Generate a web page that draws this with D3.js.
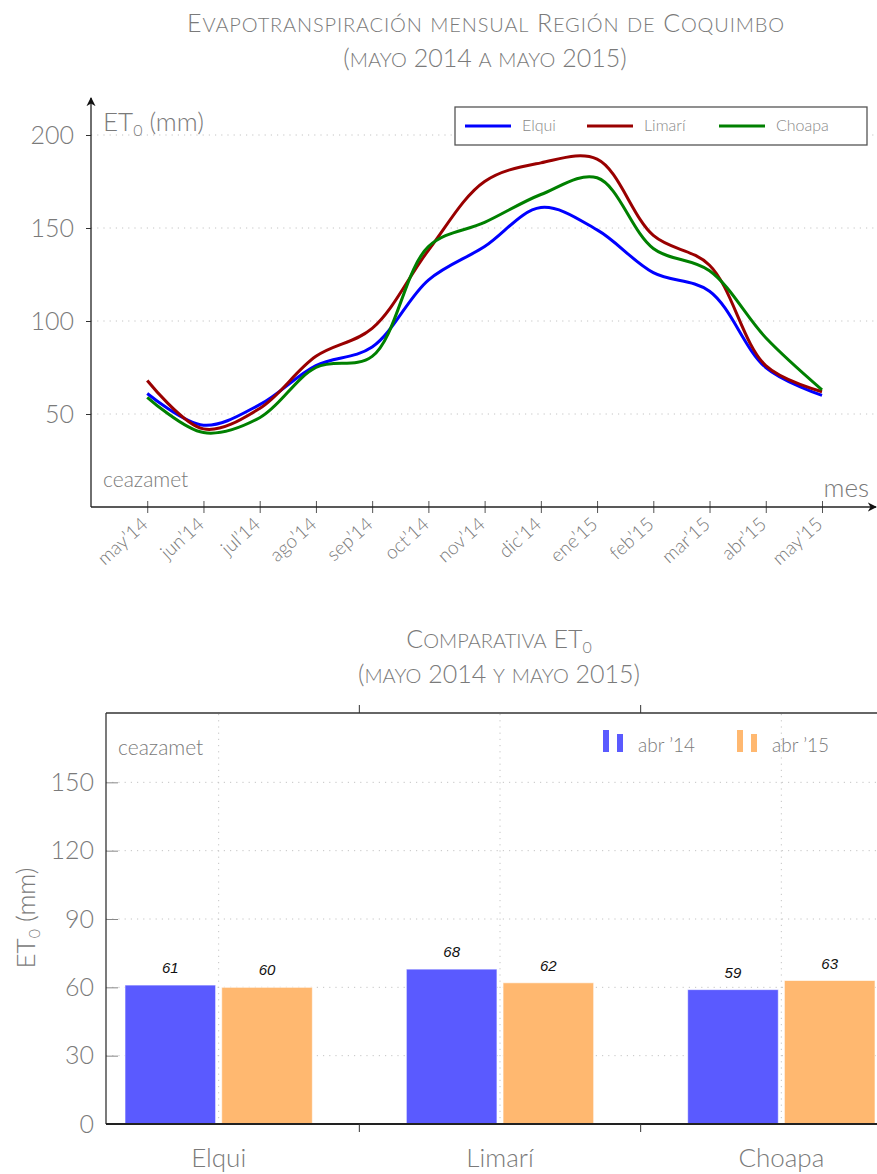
<!DOCTYPE html>
<html>
<head>
<meta charset="utf-8">
<script src="https://cdn.jsdelivr.net/npm/d3@7"></script>
<style>
  body { margin: 0; background: #fff; }
  svg { display: block; font-family: Lato, "Open Sans", sans-serif; font-weight: 300; }
</style>
</head>
<body>
<svg id="chart" width="877" height="1174"></svg>
<script>
// Monthly ET0 values (mm)
let months = ["may’14", "jun’14", "jul’14", "ago’14", "sep’14", "oct’14", "nov’14",
              "dic’14", "ene’15", "feb’15", "mar’15", "abr’15", "may’15"];
let elqui  = [61, 44, 55, 76, 86, 122, 140, 161, 149, 126, 116, 75, 60];
let limari = [68, 42, 53, 81, 96, 138, 175, 185, 187, 146, 130, 76, 62];
let choapa = [59, 40, 48, 75, 81, 140, 153, 168, 177, 139, 127, 91, 63];
let lineNames  = ["Elqui", "Limarí", "Choapa"];
let lineColors = ["#0000ff", "#990000", "#008000"];
let lineTicks  = [50, 100, 150, 200];

// Bar chart values
let regions    = ["Elqui", "Limarí", "Choapa"];
let barSeries  = ["abr ’14", "abr ’15"];
let et14       = [61, 68, 59];
let et15       = [60, 62, 63];
let barColors  = ["#5a5aff", "#ffb870"];
let barTicks   = [0, 30, 60, 90, 120, 150];

let grey = "#7a7a7a";
let svg = d3.select("#chart");

// Small caps by hand: lowercase runs get upper-cased at a smaller size
function smallCaps(sel, str, big, small) {
  let runs = str.match(/[a-záéíóúñ]+|[^a-záéíóúñ]+/g);
  runs.forEach(function(r) {
    let lower = /[a-záéíóúñ]/.test(r);
    sel.append("tspan")
      .style("font-size", (lower ? small : big) + "px")
      .text(r.toUpperCase());
  });
}

// Arrow head marker for the line chart axes
svg.append("defs").append("marker")
  .attr("id", "arrow")
  .attr("viewBox", "0 0 10 10")
  .attr("refX", 9).attr("refY", 5)
  .attr("markerWidth", 7).attr("markerHeight", 7)
  .attr("orient", "auto")
  .append("path")
    .attr("d", "M0,0 L10,5 L0,10 L3,5 Z")
    .attr("fill", "#111");

// ---------- Line chart ----------
let xScale = d3.scaleLinear().domain([-1, 12]).range([91, 822]);
let yScale = d3.scaleLinear().domain([0, 200]).range([507, 135]);

let lineG = svg.append("g");

// Title
let t1 = lineG.append("text").attr("text-anchor", "middle").attr("fill", grey);
smallCaps(t1.append("tspan").attr("x", 486).attr("y", 32).style("letter-spacing", "0.85px"),
  "Evapotranspiración mensual Región de Coquimbo", 25, 20);
smallCaps(t1.append("tspan").attr("x", 485).attr("y", 67),
  "(mayo 2014 a mayo 2015)", 25, 20);

// Dotted grid lines
lineG.append("g").selectAll("line")
  .data(lineTicks)
  .join("line")
    .attr("x1", 91).attr("x2", 877)
    .attr("y1", d => yScale(d)).attr("y2", d => yScale(d))
    .attr("stroke", "#c4c4c4")
    .attr("stroke-dasharray", "1.2,5");

// Y axis
let yAxis = lineG.append("g")
  .attr("transform", "translate(91,0)")
  .call(d3.axisLeft(yScale).tickValues(lineTicks).tickSize(5).tickPadding(12));
yAxis.select(".domain").remove();
yAxis.selectAll("line").attr("stroke", "#333");
yAxis.selectAll("text").attr("fill", grey)
  .style("font-family", "Lato, sans-serif").style("font-weight", 300).style("font-size", "25px");

lineG.append("line")
  .attr("x1", 91).attr("x2", 91).attr("y1", 507).attr("y2", 98)
  .attr("stroke", "#222").attr("stroke-width", 1.3)
  .attr("marker-end", "url(#arrow)");

// X axis
let xAxis = lineG.append("g")
  .attr("transform", "translate(0,507)")
  .call(d3.axisBottom(xScale).tickValues(d3.range(months.length))
    .tickFormat(i => months[i]).tickSize(6));
xAxis.select(".domain").remove();
xAxis.selectAll(".tick line").attr("y1", -6).attr("stroke", "#555");
xAxis.selectAll(".tick text")
  .attr("fill", grey)
  .style("font-family", "Lato, sans-serif").style("font-weight", 300).style("font-size", "19px")
  .attr("text-anchor", "end")
  .attr("x", 0).attr("y", 0)
  .attr("dy", "0.35em")
  .attr("transform", "translate(-3,14) rotate(-42)");

lineG.append("line")
  .attr("x1", 91).attr("x2", 876).attr("y1", 507).attr("y2", 507)
  .attr("stroke", "#222").attr("stroke-width", 1.3)
  .attr("marker-end", "url(#arrow)");

// Axis labels and source
let yl = lineG.append("text").attr("x", 103).attr("y", 131)
  .attr("fill", grey).style("font-size", "26px");
yl.append("tspan").text("ET");
yl.append("tspan").attr("dy", 5).style("font-size", "16px").text("0");
yl.append("tspan").attr("dy", -5).text(" (mm)");

lineG.append("text").attr("x", 869).attr("y", 497).attr("text-anchor", "end")
  .attr("fill", grey).style("font-size", "26px").text("mes");

lineG.append("text").attr("x", 103).attr("y", 487)
  .attr("fill", grey).style("font-size", "21px").text("ceazamet");

// Lines
let lineGen = d3.line()
  .x((d, i) => xScale(i))
  .y(d => yScale(d))
  .curve(d3.curveCatmullRom.alpha(0.5));

lineG.append("g").selectAll("path")
  .data([elqui, limari, choapa])
  .join("path")
    .attr("d", lineGen)
    .attr("fill", "none")
    .attr("stroke", (d, i) => lineColors[i])
    .attr("stroke-width", 3);

// Legend
let lg = lineG.append("g");
lg.append("rect")
  .attr("x", 455).attr("y", 107).attr("width", 412).attr("height", 38)
  .attr("fill", "#fff").attr("stroke", "#555").attr("stroke-width", 1.3);
let legendX = [465, 587, 719];
lineNames.forEach(function(name, i) {
  lg.append("line")
    .attr("x1", legendX[i]).attr("x2", legendX[i] + 46)
    .attr("y1", 126).attr("y2", 126)
    .attr("stroke", lineColors[i]).attr("stroke-width", 3);
  lg.append("text")
    .attr("x", legendX[i] + 57).attr("y", 131)
    .attr("fill", "#888").style("font-size", "16px").text(name);
});

// ---------- Bar chart ----------
let x0 = d3.scaleBand().domain(regions).range([78, 922]);
let x1 = d3.scaleBand().domain(barSeries)
  .range([47, x0.bandwidth() - 47]).paddingInner(0.063);
let yBar = d3.scaleLinear().domain([0, 180]).range([1124, 714]);

let barG = svg.append("g");

// Title
let t2 = barG.append("text").attr("text-anchor", "middle").attr("fill", grey);
let t2a = t2.append("tspan").attr("x", 499).attr("y", 648);
smallCaps(t2a, "Comparativa ET", 25, 20);
t2a.append("tspan").attr("dy", 5).style("font-size", "16px").text("0");
smallCaps(t2.append("tspan").attr("x", 499).attr("y", 683),
  "(mayo 2014 y mayo 2015)", 25, 20);

// Grid lines
barG.append("g").selectAll("line")
  .data(barTicks.filter(d => d > 0))
  .join("line")
    .attr("x1", 106).attr("x2", 877)
    .attr("y1", d => yBar(d)).attr("y2", d => yBar(d))
    .attr("stroke", "#c4c4c4").attr("stroke-dasharray", "1.2,5");
barG.append("g").selectAll("line")
  .data(regions)
  .join("line")
    .attr("x1", d => x0(d) + x0.bandwidth() / 2).attr("x2", d => x0(d) + x0.bandwidth() / 2)
    .attr("y1", 714).attr("y2", 1124)
    .attr("stroke", "#c4c4c4").attr("stroke-dasharray", "1.2,5");

// Bars
let barData = regions.map((r, i) => ({region: r, values: [et14[i], et15[i]]}));
let groups = barG.append("g").selectAll("g")
  .data(barData)
  .join("g")
    .attr("transform", d => `translate(${x0(d.region)},0)`);

groups.selectAll("rect")
  .data(d => d.values.map((v, j) => ({series: barSeries[j], value: v, j: j})))
  .join("rect")
    .attr("x", d => x1(d.series))
    .attr("y", d => yBar(d.value))
    .attr("width", x1.bandwidth())
    .attr("height", d => yBar(0) - yBar(d.value))
    .attr("fill", d => barColors[d.j])
    .attr("stroke", "rgba(255,255,255,0.6)").attr("stroke-width", 1);

groups.selectAll("text")
  .data(d => d.values.map((v, j) => ({series: barSeries[j], value: v})))
  .join("text")
    .attr("x", d => x1(d.series) + x1.bandwidth() / 2)
    .attr("y", d => yBar(d.value) - 12)
    .attr("text-anchor", "middle")
    .style("font-family", "'Liberation Sans', Arial, sans-serif")
    .style("font-style", "italic").style("font-weight", 400)
    .style("font-size", "15px")
    .attr("fill", "#111")
    .text(d => d.value);

// Y axis with inward ticks
let yBarAxis = barG.append("g")
  .attr("transform", "translate(106,0)")
  .call(d3.axisLeft(yBar).tickValues(barTicks).tickSize(-12).tickPadding(12));
yBarAxis.select(".domain").remove();
yBarAxis.selectAll("line").attr("stroke", "#888");
yBarAxis.selectAll("text").attr("fill", grey)
  .style("font-family", "Lato, sans-serif").style("font-weight", 300).style("font-size", "25px");

// Frame: left, top and bottom lines
barG.append("line").attr("x1", 106).attr("x2", 106).attr("y1", 713).attr("y2", 1124)
  .attr("stroke", "#333").attr("stroke-width", 1.3);
barG.append("line").attr("x1", 106).attr("x2", 922).attr("y1", 713).attr("y2", 713)
  .attr("stroke", "#333").attr("stroke-width", 1.3);
barG.append("line").attr("x1", 106).attr("x2", 922).attr("y1", 1124).attr("y2", 1124)
  .attr("stroke", "#222").attr("stroke-width", 2);

// Ticks between the regions, on top and bottom
let bounds = regions.slice(1).map(r => x0(r));
barG.append("g").selectAll("line")
  .data(bounds)
  .join("line")
    .attr("x1", d => d).attr("x2", d => d).attr("y1", 705).attr("y2", 713)
    .attr("stroke", "#333");
barG.append("g").selectAll("line")
  .data(bounds)
  .join("line")
    .attr("x1", d => d).attr("x2", d => d).attr("y1", 1124).attr("y2", 1132)
    .attr("stroke", "#333");

// Region labels
barG.append("g").selectAll("text")
  .data(regions)
  .join("text")
    .attr("x", d => x0(d) + x0.bandwidth() / 2)
    .attr("y", 1167)
    .attr("text-anchor", "middle")
    .attr("fill", grey).style("font-size", "26px")
    .text(d => d);

// Y axis title
let yt = barG.append("text")
  .attr("transform", "translate(35,918) rotate(-90)")
  .attr("text-anchor", "middle")
  .attr("fill", grey).style("font-size", "26px");
yt.append("tspan").text("ET");
yt.append("tspan").attr("dy", 5).style("font-size", "16px").text("0");
yt.append("tspan").attr("dy", -5).text(" (mm)");

barG.append("text").attr("x", 118).attr("y", 755)
  .attr("fill", grey).style("font-size", "21px").text("ceazamet");

// Bar legend
let legendBX = [603, 737];
barSeries.forEach(function(name, i) {
  barG.append("rect").attr("x", legendBX[i]).attr("y", 730)
    .attr("width", 6).attr("height", 22).attr("fill", barColors[i]);
  barG.append("rect").attr("x", legendBX[i] + 14).attr("y", 734)
    .attr("width", 6).attr("height", 18).attr("fill", barColors[i]);
  barG.append("text").attr("x", legendBX[i] + 35).attr("y", 752)
    .attr("fill", grey).style("font-size", "19px").text(name);
});
</script>
</body>
</html>
